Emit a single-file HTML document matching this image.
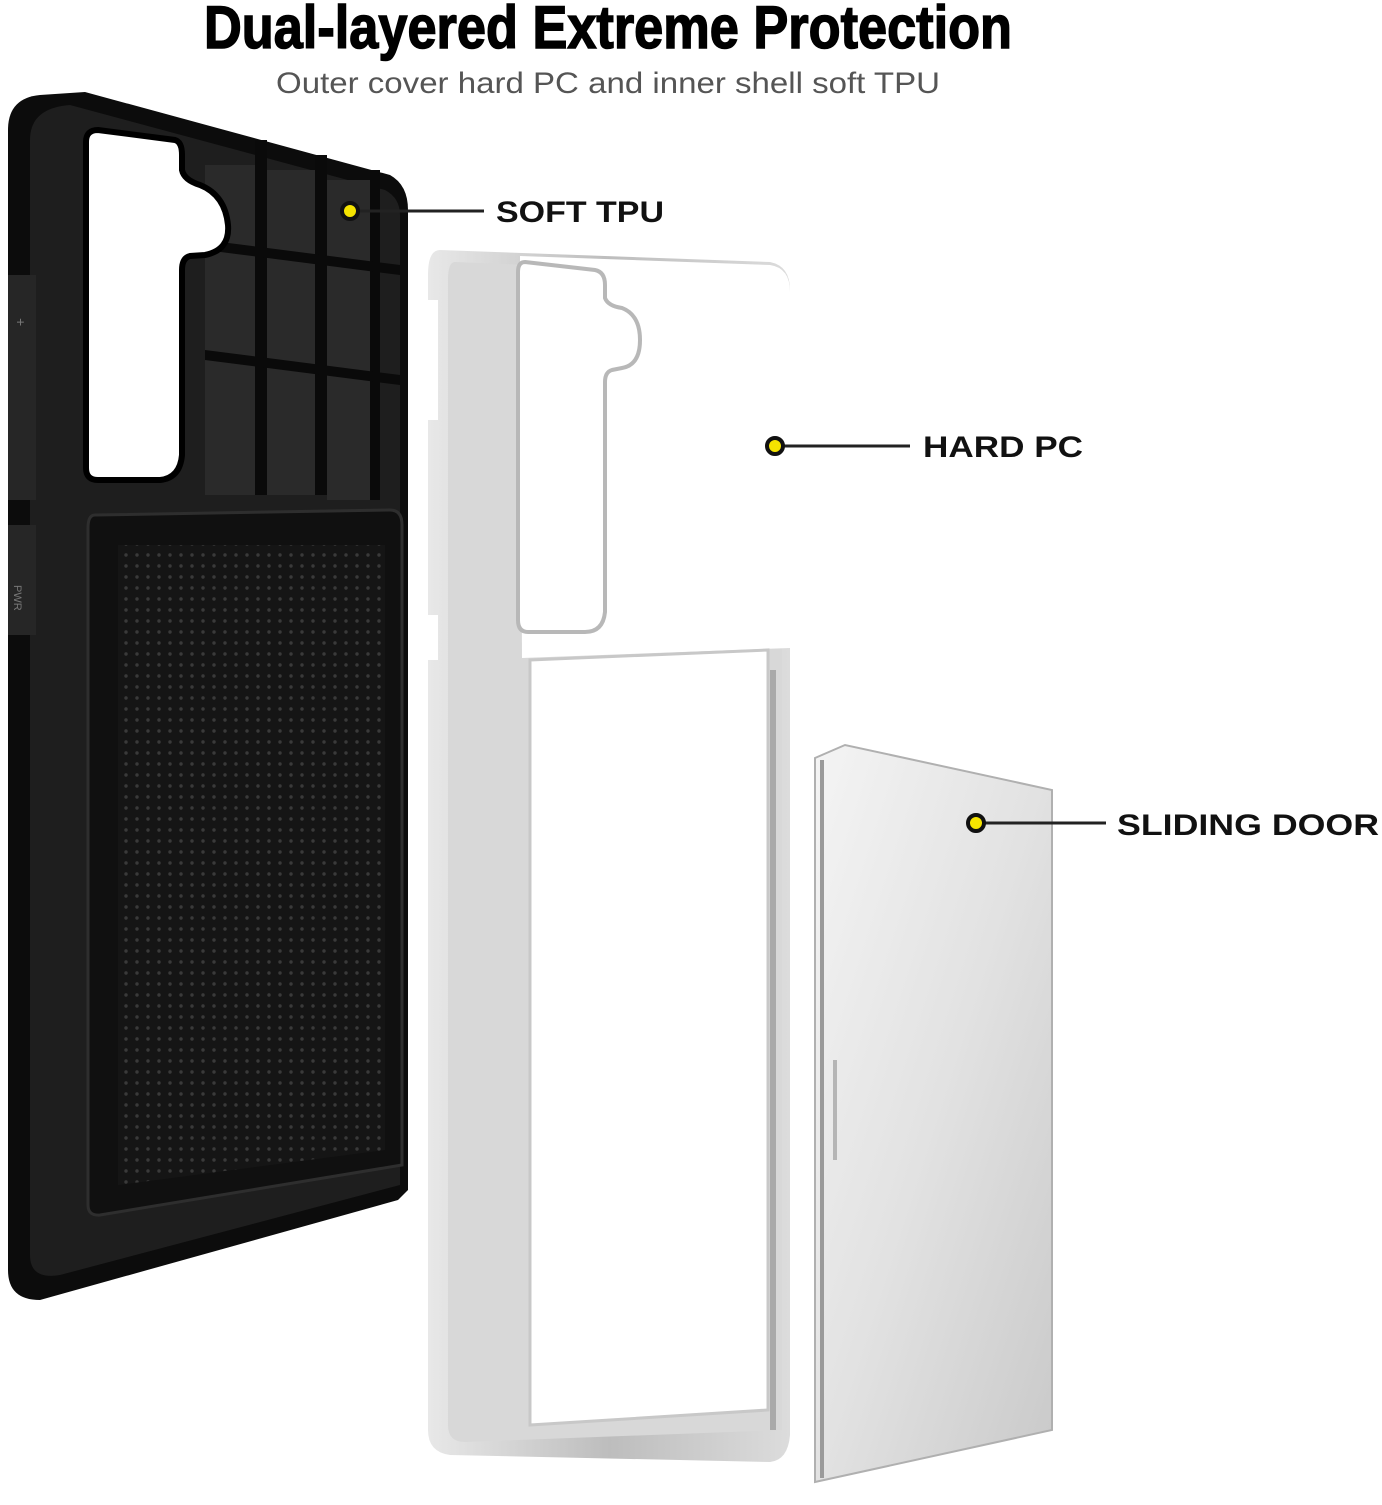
<!DOCTYPE html>
<html><head><meta charset="utf-8"><style>
html,body{margin:0;padding:0;background:#fff;}
body{width:1382px;height:1500px;overflow:hidden;position:relative;font-family:"Liberation Sans",sans-serif;}
</style></head><body>
<svg width="1382" height="1500" viewBox="0 0 1382 1500" xmlns="http://www.w3.org/2000/svg">
<defs>
<linearGradient id="door" x1="0" y1="0" x2="1" y2="1">
<stop offset="0" stop-color="#f4f4f4"/><stop offset="0.5" stop-color="#e2e2e2"/><stop offset="1" stop-color="#c9c9c9"/>
</linearGradient>
<linearGradient id="frame" x1="0" y1="0" x2="1" y2="0">
<stop offset="0" stop-color="#e8e8e8"/><stop offset="0.5" stop-color="#bdbdbd"/><stop offset="1" stop-color="#dcdcdc"/>
</linearGradient>
<pattern id="dots" width="11" height="11" patternUnits="userSpaceOnUse">
<rect width="11" height="11" fill="#151515"/><circle cx="5" cy="5" r="1.7" fill="#3a3a3a"/>
</pattern>
</defs>

<text x="608" y="48" text-anchor="middle" font-family="Liberation Sans" font-weight="bold" font-size="60" fill="#000" stroke="#000" stroke-width="1.5" textLength="808" lengthAdjust="spacingAndGlyphs">Dual-layered Extreme Protection</text>
<text x="608" y="93" text-anchor="middle" font-family="Liberation Sans" font-size="30" fill="#555" textLength="664" lengthAdjust="spacingAndGlyphs">Outer cover hard PC  and inner shell soft TPU</text>

<!-- black TPU case -->
<path d="M40 95 L85 92 L390 175 Q408 185 408 210 L408 1190 L398 1200 L40 1300 Q8 1300 8 1270 L8 130 Q8 98 40 95 Z" fill="#0c0c0c"/>
<path d="M70 105 L385 190 Q400 198 400 215 L400 1185 L60 1275 Q30 1280 30 1255 L30 140 Q30 108 70 105 Z" fill="#1e1e1e"/>
<g fill="#2a2a2a">
<rect x="205" y="165" width="50" height="330"/>
<rect x="267" y="170" width="48" height="325"/>
<rect x="327" y="180" width="43" height="320"/>
</g>
<g fill="#0a0a0a">
<rect x="255" y="140" width="12" height="355"/>
<rect x="315" y="155" width="12" height="340"/>
<rect x="370" y="170" width="10" height="330"/>
<path d="M205 240 L400 265 L400 275 L205 250 Z"/>
<path d="M205 350 L400 375 L400 385 L205 360 Z"/>
</g>
<!-- camera window -->
<path d="M98 130 L175 140 Q182 142 182 155 L182 170 Q184 180 200 185 Q225 195 228 225 Q230 250 205 255 L190 256 Q182 258 182 270 L182 455 Q180 478 160 480 L98 480 Q86 480 86 468 L86 142 Q86 130 98 130 Z" fill="#fff" stroke="#000" stroke-width="6"/>
<!-- card area -->
<path d="M95 515 L390 510 Q402 510 402 525 L402 1165 L100 1215 Q88 1216 88 1205 L88 528 Q88 515 95 515 Z" fill="#101010" stroke="#2e2e2e" stroke-width="3"/>
<path d="M118 545 L385 545 L385 1150 L118 1185 Z" fill="url(#dots)"/>
<!-- side buttons -->
<rect x="8" y="275" width="28" height="225" fill="#262626"/>
<rect x="8" y="525" width="28" height="110" fill="#262626"/>
<text x="16" y="318" font-size="14" fill="#777" transform="rotate(90 16 318)">+</text>
<text x="14" y="585" font-size="11" fill="#777" transform="rotate(90 14 585)">PWR</text>

<!-- hard PC frame -->
<path d="M440 250 L770 262 Q790 266 790 290 L790 1435 Q788 1460 770 1462 L450 1455 Q428 1452 428 1430 L428 275 Q428 250 440 250 Z" fill="url(#frame)"/>
<rect x="428" y="300" width="10" height="120" fill="#fff"/>
<rect x="428" y="615" width="10" height="45" fill="#fff"/>
<path d="M455 262 L770 275 Q782 278 782 290 L782 1430 L465 1442 Q448 1442 448 1425 L448 280 Q448 262 455 262 Z" fill="#d8d8d8"/>
<path d="M520 256 L770 265 Q790 268 790 292 L790 648 L522 658 Z" fill="#fff"/>
<path d="M530 660 L768 650 L768 1410 L530 1425 Z" fill="#fff"/>
<path d="M530 660 L768 650 L768 1410 L530 1425 Z" fill="none" stroke="#c8c8c8" stroke-width="3"/>
<path d="M525 262 L595 270 Q605 272 605 285 L605 298 Q608 306 622 308 Q640 315 640 340 Q640 365 622 368 L612 370 Q605 372 605 382 L605 612 Q603 632 585 632 L528 632 Q518 632 518 620 L518 272 Q518 262 525 262 Z" fill="#fff" stroke="#b8b8b8" stroke-width="4"/>
<rect x="770" y="670" width="6" height="760" fill="#aaa"/>

<!-- sliding door -->
<path d="M815 758 L845 745 L1052 790 L1052 1430 L815 1482 Z" fill="url(#door)"/>
<path d="M815 758 L845 745 L1052 790 L1052 1430 L815 1482 Z" fill="none" stroke="#b0b0b0" stroke-width="2"/>
<path d="M822 760 L822 1478" stroke="#9a9a9a" stroke-width="4"/>
<path d="M835 1060 L835 1160" stroke="#b5b5b5" stroke-width="4"/>

<!-- callouts -->
<g stroke="#222" stroke-width="3">
<line x1="350" y1="211" x2="484" y2="211"/>
<line x1="775" y1="446" x2="910" y2="446"/>
<line x1="976" y1="823" x2="1106" y2="823"/>
</g>
<g fill="#f5e400" stroke="#111" stroke-width="4">
<circle cx="350" cy="211" r="8"/>
<circle cx="775" cy="446" r="8"/>
<circle cx="976" cy="823" r="8"/>
</g>
<g font-family="Liberation Sans" font-weight="bold" font-size="30" fill="#111">
<text x="496" y="222" textLength="168" lengthAdjust="spacingAndGlyphs">SOFT TPU</text>
<text x="923" y="457" textLength="160" lengthAdjust="spacingAndGlyphs">HARD PC</text>
<text x="1117" y="835" textLength="262" lengthAdjust="spacingAndGlyphs">SLIDING DOOR</text>
</g>
</svg>
</body></html>
